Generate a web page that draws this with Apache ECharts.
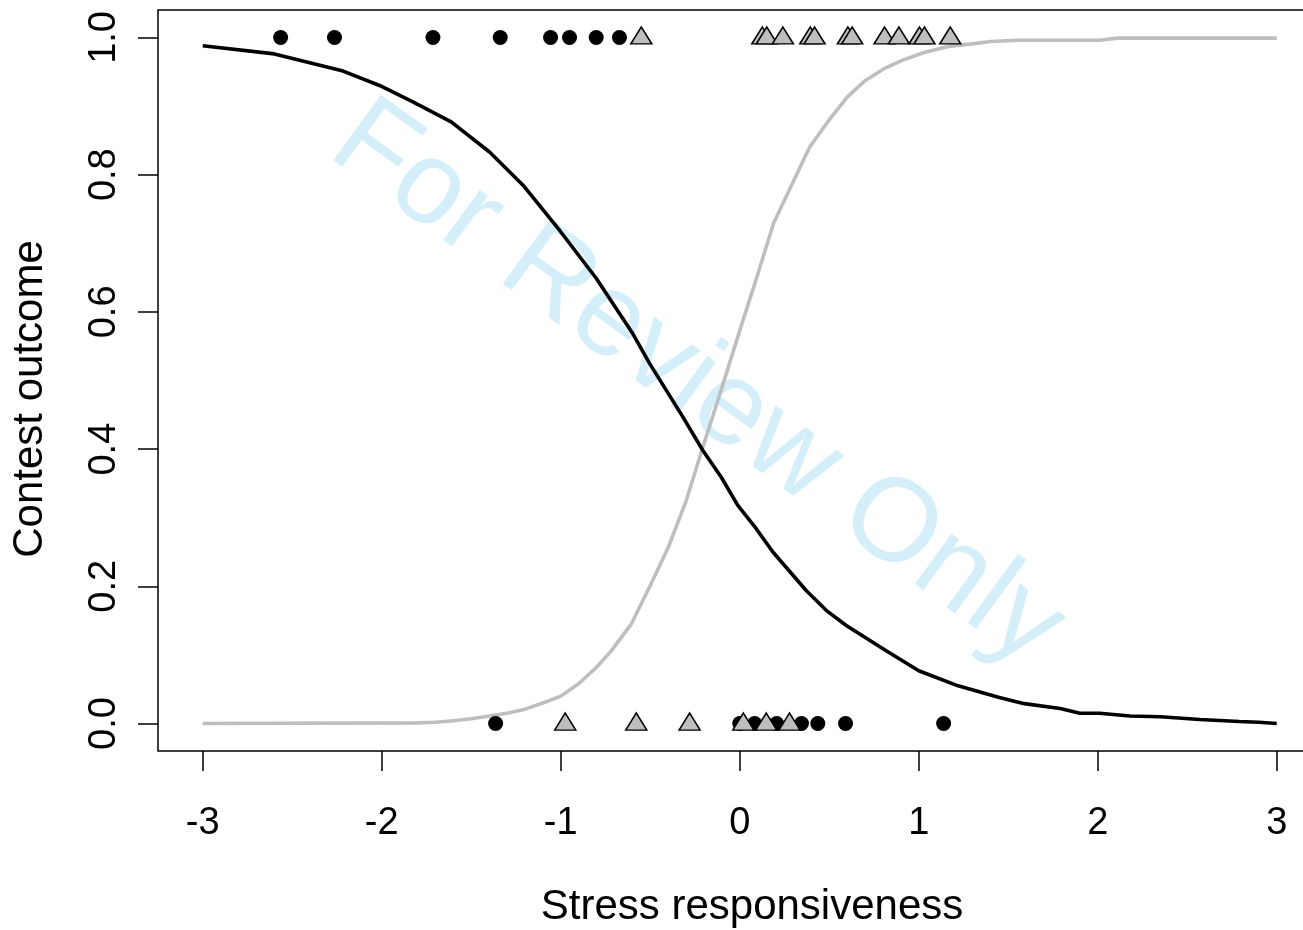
<!DOCTYPE html>
<html><head><meta charset="utf-8">
<script src="https://cdn.jsdelivr.net/npm/echarts@6/dist/echarts.min.js"></script>
<style>html,body{margin:0;padding:0;background:#fff}#c{width:1303px;height:930px}</style>
</head><body><div id="c"></div>
<script>
// ---- data ----
const xTicks = [-3, -2, -1, 0, 1, 2, 3];
const yTicks = [0, 0.2, 0.4, 0.6, 0.8, 1.0];

const blackCurveX = [-3.0, -2.6, -2.216, -2.012, -1.826, -1.612, -1.398, -1.212, -1.007, -0.802, -0.597, -0.504, -0.318, -0.206, -0.103, -0.011, 0.092, 0.185, 0.371, 0.483, 0.595, 0.818, 1.0, 1.22, 1.45, 1.59, 1.79, 1.90, 2.01, 2.18, 2.35, 2.57, 2.79, 2.90, 3.0];
const blackCurveY = [0.988, 0.976, 0.951, 0.930, 0.906, 0.877, 0.833, 0.785, 0.719, 0.649, 0.568, 0.525, 0.447, 0.398, 0.359, 0.318, 0.284, 0.250, 0.194, 0.165, 0.143, 0.106, 0.077, 0.055, 0.038, 0.029, 0.022, 0.015, 0.015, 0.011, 0.010, 0.006, 0.003, 0.002, 0.000];

const grayCurveX = [-3.0, -1.80, -1.70, -1.60, -1.50, -1.40, -1.30, -1.20, -1.10, -1.00, -0.90, -0.80, -0.718, -0.606, -0.504, -0.402, -0.299, -0.206, -0.104, 0.0, 0.09, 0.19, 0.29, 0.39, 0.50, 0.60, 0.70, 0.81, 0.91, 1.03, 1.17, 1.31, 1.40, 1.56, 2.01, 2.11, 3.0];
const grayCurveY = [0.000, 0.001, 0.002, 0.004, 0.007, 0.011, 0.015, 0.021, 0.030, 0.040, 0.058, 0.082, 0.106, 0.145, 0.199, 0.255, 0.325, 0.403, 0.486, 0.573, 0.646, 0.730, 0.785, 0.840, 0.880, 0.913, 0.937, 0.955, 0.967, 0.978, 0.987, 0.991, 0.994, 0.996, 0.996, 0.999, 0.999];

// circles (outcome 1 and 0)
const circleTopX = [-2.565, -2.264, -1.714, -1.338, -1.057, -0.951, -0.802, -0.672];
const circleBottomX = [-1.364, 0.0, 0.083, 0.206, 0.345, 0.436, 0.591, 1.139];
// triangles (outcome 1 and 0)
const triTopX = [-0.550, 0.126, 0.151, 0.241, 0.394, 0.418, 0.604, 0.628, 0.809, 0.889, 1.004, 1.032, 1.176];
const triBottomX = [-0.975, -0.578, -0.280, 0.020, 0.148, 0.278];

const xTitle = 'Stress responsiveness';
const yTitle = 'Contest outcome';
const watermark = 'For Review Only';

// ---- build ----
const zip = (xs, ys) => xs.map((x, i) => [x, ys[i]]);
const at = (xs, y) => xs.map(x => [x, y]);
const FONT = 'Liberation Sans, Arial, Helvetica, sans-serif';

const chart = echarts.init(document.getElementById('c'), null, {renderer: 'canvas'});
chart.setOption({
  backgroundColor: '#fff',
  animation: false,
  grid: {left: 158, top: 10, right: -18.5, bottom: 179, show: true, borderColor: '#000', borderWidth: 1.5, backgroundColor: 'transparent', outerBoundsMode: 'none'},
  xAxis: {
    type: 'value', min: -3.25, max: 3.25, position: 'bottom',
    splitLine: {show: false},
    axisLine: {show: false, onZero: false},
    axisTick: {show: true, inside: false, length: 20, lineStyle: {color: '#000', width: 1.5}, customValues: xTicks},
    axisLabel: {customValues: xTicks, color: '#000', fontSize: 38, fontFamily: FONT, margin: 54, formatter: v => String(v)}
  },
  yAxis: {
    type: 'value', min: -0.04, max: 1.04, position: 'left',
    splitLine: {show: false},
    axisLine: {show: false, onZero: false},
    axisTick: {show: true, inside: false, length: 20, lineStyle: {color: '#000', width: 1.5}, customValues: yTicks},
    axisLabel: {customValues: yTicks, color: '#000', fontSize: 38, fontFamily: FONT, rotate: 90, margin: 34, formatter: v => v.toFixed(1)}
  },
  graphic: [
    {type: 'text', x: 697, y: 385, rotation: -0.63, z: 0, silent: true,
     style: {text: watermark, fill: 'rgb(213,239,250)', font: '118px ' + FONT, align: 'center', verticalAlign: 'middle', textAlign: 'center', textVerticalAlign: 'middle'}},
    {type: 'text', x: 752, y: 907, z: 10,
     style: {text: xTitle, fill: '#000', font: '42px ' + FONT, align: 'center', verticalAlign: 'middle', textAlign: 'center', textVerticalAlign: 'middle'}},
    {type: 'text', x: 30, y: 399, rotation: Math.PI / 2, z: 10,
     style: {text: yTitle, fill: '#000', font: '42px ' + FONT, align: 'center', verticalAlign: 'middle', textAlign: 'center', textVerticalAlign: 'middle'}}
  ],
  series: [
    {type: 'line', data: zip(grayCurveX, grayCurveY), showSymbol: false, symbol: 'none', lineStyle: {color: '#bebebe', width: 3.6}, z: 2},
    {type: 'line', data: zip(blackCurveX, blackCurveY), showSymbol: false, symbol: 'none', lineStyle: {color: '#000', width: 3.6}, z: 3},
    {type: 'scatter', data: at(circleTopX, 1), symbol: 'circle', symbolSize: 15, itemStyle: {color: '#000', opacity: 1}, z: 4},
    {type: 'scatter', data: at(circleBottomX, 0), symbol: 'circle', symbolSize: 15, itemStyle: {color: '#000', opacity: 1}, z: 4},
    {type: 'scatter', data: at(triTopX, 1), symbol: 'triangle', symbolSize: [21, 17], symbolOffset: [0, -2], itemStyle: {color: '#bebebe', borderColor: '#000', borderWidth: 1.5, opacity: 1}, z: 5},
    {type: 'scatter', data: at(triBottomX, 0), symbol: 'triangle', symbolSize: [21, 17], symbolOffset: [0, -2], itemStyle: {color: '#bebebe', borderColor: '#000', borderWidth: 1.5, opacity: 1}, z: 5}
  ]
});
</script></body></html>
